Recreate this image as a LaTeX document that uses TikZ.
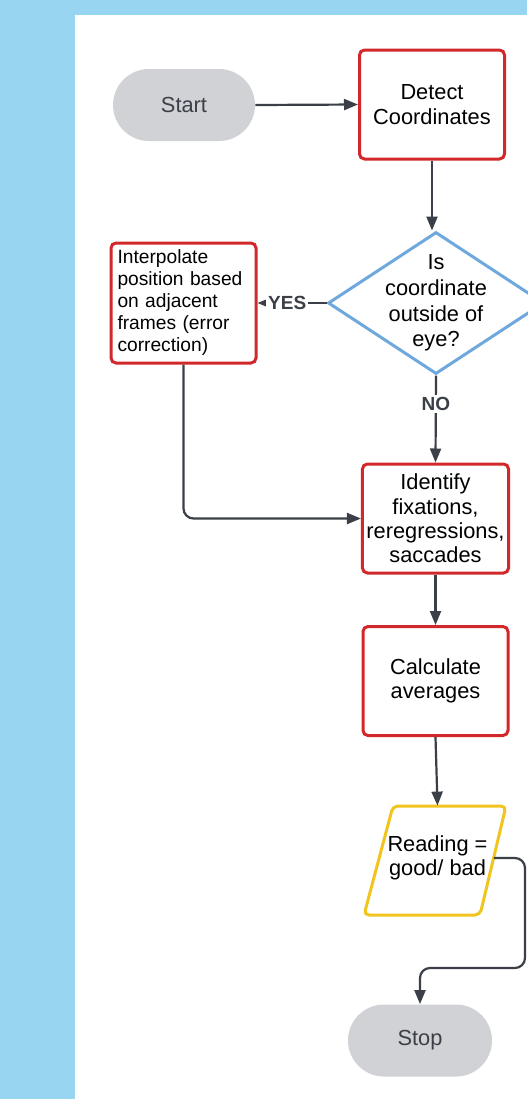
\documentclass[tikz,border=0pt]{standalone}
\usepackage{fontspec}
\setmainfont{Liberation Sans}
\usetikzlibrary{arrows.meta,shapes.geometric}
\definecolor{skyback}{RGB}{151,213,240}
\definecolor{boxred}{RGB}{210,40,44}
\definecolor{decblue}{RGB}{111,168,220}
\definecolor{ioyellow}{RGB}{242,196,30}
\definecolor{pillgray}{RGB}{208,210,213}
\definecolor{linegray}{RGB}{59,63,71}
\tikzset{
  box/.style={draw=boxred, line width=1.5pt, rounded corners=2.5pt, minimum width=72.5pt, minimum height=54.5pt, align=center, inner sep=2pt, font=\fontsize{10.9}{12.2}\selectfont},
  pill/.style={fill=pillgray, rounded corners=18pt, minimum width=71pt, minimum height=36pt, text=linegray, font=\fontsize{10.9}{12.2}\selectfont},
  arr/.style={draw=linegray, line width=1.1pt, -{Triangle[length=7pt,width=5.5pt]}},
  tag/.style={fill=white, text=linegray, inner sep=1pt, font=\bfseries\fontsize{9.5}{11}\selectfont}
}
\begin{document}
\begin{tikzpicture}[x=0.5pt, y=-0.5pt]
  \useasboundingbox (0,0) rectangle (527,1099);
  \fill[skyback] (0,0) rectangle (527,1099);
  \fill[white] (75,15) rectangle (527,1099);

  \node[pill] (start) at (184,105) {Start};
  \node[box] (detect) at (432,104.5) {Detect\\Coordinates};
  \node[diamond, draw=decblue, line width=1.5pt, minimum width=108pt, minimum height=71pt, inner sep=0pt] (check) at (436,303) {};
  \node[align=center, font=\fontsize{10.9}{12.8}\selectfont] (checktext) at (check) {Is\\coordinate\\outside of\\eye?};
  \node[box, minimum height=60pt, text width=66pt, align=left, font=\fontsize{9.6}{11}\selectfont] (interp) at (183.5,303) {Interpolate\\position based\\on adjacent\\frames (error\\correction)};
  \node[box] (ident) at (435.5,518.5) {Identify\\fixations,\\reregressions,\\saccades};
  \node[box] (calc) at (435.5,681) {Calculate\\averages};
  % parallelogram for the output step
  \draw[ioyellow, line width=1.5pt, rounded corners=2.5pt] (393,806) -- (506,806) -- (480,915) -- (364,915) -- cycle;
  \node[align=center, minimum width=56pt, minimum height=52pt, inner sep=0pt, font=\fontsize{10.9}{12.2}\selectfont] (read) at (437.5,858) {Reading =\\good/ bad};
  \node[pill, minimum width=72pt] (stop) at (420,1040.5) {Stop};

  \draw[arr] (start.east) -- (detect.west);
  \draw[arr] (detect.south) -- (detect.south |- check.north);
  \draw[arr] (check.west) -- node[tag, pos=0.57]{YES} (interp.east);
  \draw[arr] (check.south) -- node[tag, pos=0.33]{NO} (ident.north);
  \draw[arr, rounded corners=5pt] (interp.south) |- (ident.west);
  \draw[arr] (ident) -- (calc);
  \draw[arr] (calc.south) -- (read.north);
  \coordinate (turn) at (525,968);
  \draw[arr, rounded corners=5pt] (read.east) -| (turn) -| (stop.north);
\end{tikzpicture}
\end{document}
